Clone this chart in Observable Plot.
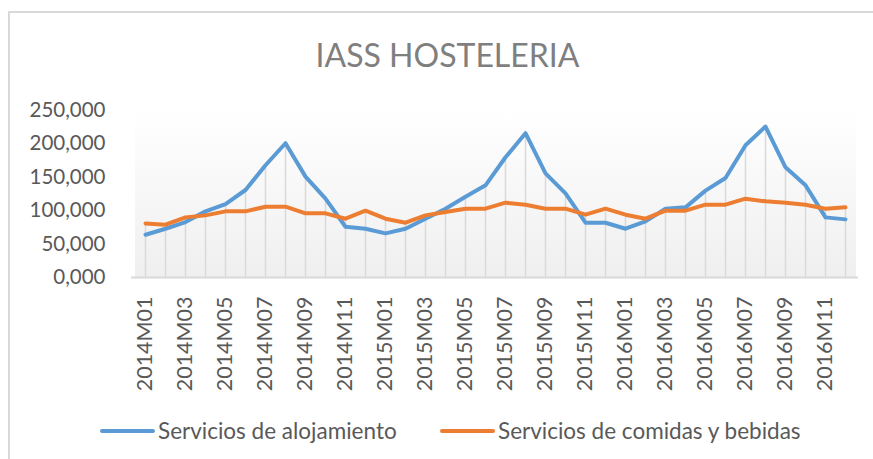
<!DOCTYPE html>
<html>
<head>
<meta charset="utf-8">
<script src="https://cdn.jsdelivr.net/npm/d3@7"></script>
<script src="https://cdn.jsdelivr.net/npm/@observablehq/plot@0.6"></script>
<style>
  body { margin: 0; background: #fff; }
  #wrap { position: relative; width: 873px; height: 459px; overflow: hidden; font-family: Lato, "Open Sans", sans-serif; }
  #border { position: absolute; left: 8px; top: 11px; width: 865px; height: 448px; box-sizing: border-box; border-left: 2px solid #d9d9d9; border-top: 2px solid #d9d9d9; }
  #title { position: absolute; left: 11px; top: 39px; width: 873px; text-align: center; font-size: 32px; line-height: 31px; color: #7f7f7f; font-weight: 400; }
  #chart { position: absolute; left: 0; top: 90px; }
  #legend { position: absolute; top: 418px; left: 0; width: 873px; height: 26px; font-size: 22.5px; color: #595959; }
  .item { position: absolute; display: flex; align-items: center; line-height: 26px; }
  .sw { width: 55px; height: 4px; border-radius: 2px; margin-right: 3px; }
</style>
</head>
<body>
<div id="wrap">
  <div id="border"></div>
  <div id="title">IASS HOSTELERIA</div>
  <div id="chart"></div>
  <div id="legend"></div>
</div>
<script>
const years = ["2014", "2015", "2016"];
const monthCodes = ["M01","M02","M03","M04","M05","M06","M07","M08","M09","M10","M11","M12"];
const months = years.flatMap(y => monthCodes.map(m => y + m));

const seriesNames = ["Servicios de alojamiento", "Servicios de comidas y bebidas"];
const seriesColors = ["#5b9bd5", "#ed7d31"];

const alojamiento = [
  64, 73, 83, 99, 110, 131, 168, 201, 151, 118, 76, 73,
  66, 73, 88, 103, 121, 138, 180, 216, 156, 126, 82, 82,
  73, 84, 103, 105, 130, 149, 198, 226, 165, 138, 90, 87
];
const comidas = [
  81, 79, 90, 93, 99, 99, 106, 106, 96, 96, 88, 100,
  88, 82, 93, 98, 103, 103, 112, 109, 103, 103, 94, 103,
  94, 88, 100, 100, 109, 109, 118, 114, 112, 109, 103, 105
];
const yTicks = [0, 50, 100, 150, 200, 250];
const xTicks = months.filter((d, i) => i % 2 === 0);

const rows = months.flatMap((m, i) => [
  {month: m, value: alojamiento[i], serie: seriesNames[0]},
  {month: m, value: comidas[i], serie: seriesNames[1]}
]);
const drops = months.map((m, i) => ({month: m, top: Math.max(alojamiento[i], comidas[i])}));

const chart = Plot.plot({
  width: 873,
  height: 312,
  marginLeft: 131,
  marginRight: 15,
  marginTop: 20,
  marginBottom: 125,
  style: {fontFamily: "Lato, 'Open Sans', sans-serif", color: "#595959", background: "transparent"},
  x: {type: "point", domain: months, padding: 0.5},
  y: {domain: [0, 250]},
  color: {domain: seriesNames, range: seriesColors},
  marks: [
    Plot.rect([{y1: 0, y2: 250}], {x1: () => months[0], x2: () => months[months.length - 1], y1: "y1", y2: "y2", fill: "url(#bggrad)", insetLeft: -10, insetRight: -11}),
    Plot.ruleX(drops, {x: "month", y1: 0, y2: "top", stroke: "#d9d9d9", strokeWidth: 1.5}),
    Plot.ruleY([0], {stroke: "#d9d9d9", strokeWidth: 2}),
    Plot.line(rows, {x: "month", y: "value", z: "serie", stroke: "serie", strokeWidth: 4, strokeLinejoin: "round", strokeLinecap: "round"}),
    Plot.axisY({ticks: yTicks, tickSize: 0, tickPadding: 26, fontSize: 20.5, label: null,
      tickFormat: d => d.toFixed(3).replace(".", ",")}),
    Plot.axisX({ticks: xTicks, tickSize: 0, tickPadding: 19, tickRotate: -90, fontSize: 21.5, label: null})
  ]
});

d3.select(chart).insert("defs", ":first-child").html(
  '<linearGradient id="bggrad" x1="0" y1="0" x2="0" y2="1">' +
  '<stop offset="0" stop-color="#ffffff"/><stop offset="1" stop-color="#efefef"/></linearGradient>'
);
document.getElementById("chart").appendChild(chart);

const legend = document.getElementById("legend");
const lefts = [100, 440];
seriesNames.forEach((name, i) => {
  const item = document.createElement("div");
  item.className = "item";
  item.style.left = lefts[i] + "px";
  item.innerHTML = `<span class="sw" style="background:${seriesColors[i]}"></span><span>${name}</span>`;
  legend.appendChild(item);
});
</script>
</body>
</html>
